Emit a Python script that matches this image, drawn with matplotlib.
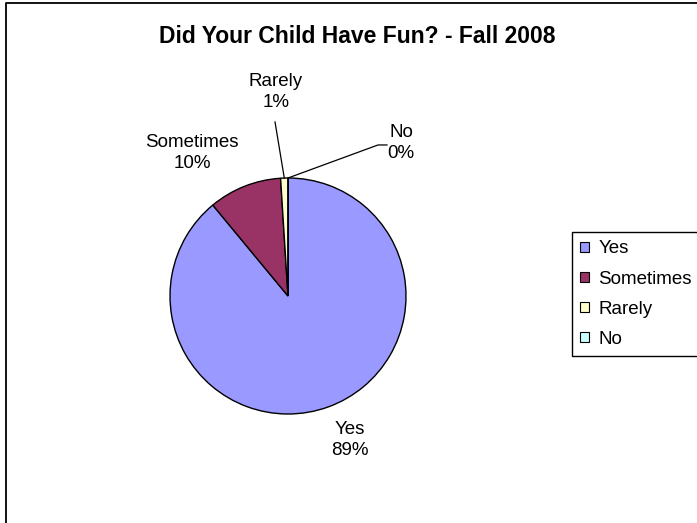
import numpy as np
import matplotlib
matplotlib.use("Agg")
import matplotlib.pyplot as plt
from matplotlib.patches import Patch
from matplotlib.lines import Line2D

plt.rcParams["font.family"] = ["Liberation Sans", "DejaVu Sans"]

# survey answers, percent of responses
categories = ["Yes", "Sometimes", "Rarely", "No"]
percents = [89, 10, 1, 0]
colors = ["#9999FF", "#993366", "#FFFFCC", "#CCFFFF"]

# where each data label sits (axes data units, pie radius = 1)
label_pos = [(0.525, -1.22), (-0.814, 1.212), (-0.102, 1.729), (0.958, 1.297)]
# leader lines for the thin slices: label end (and elbow) points
leaders = {
    "Rarely": [(-0.110, 1.475)],
    "No": [(0.839, 1.28), (0.763, 1.28)],
}

W, H = 697, 523
FS = 13.5
fig = plt.figure(figsize=(W / 100, H / 100), dpi=100)

# chart area border (only left and top edges fall inside the image)
fig.lines.append(Line2D([5.5 / W, 5.5 / W, 1.0], [0, 1 - 2.5 / H, 1 - 2.5 / H],
                        transform=fig.transFigure, color="black", linewidth=1.3))

fig.text(357 / W, 1 - 36.5 / H, "Did Your Child Have Fun? - Fall 2008",
         ha="center", va="center", fontsize=16.5, fontweight="bold")

ax = fig.add_axes([170 / W, 1 - 414 / H, 236 / W, 236 / H])
wedges, _ = ax.pie(percents, colors=colors, startangle=90, counterclock=False,
                   radius=1, wedgeprops=dict(edgecolor="black", linewidth=1))
ax.set_xlim(-1, 1)
ax.set_ylim(-1, 1)
ax.set_aspect("equal")
ax.axis("off")

for w, name, p, (lx, ly) in zip(wedges, categories, percents, label_pos):
    ax.text(lx, ly, f"{name}\n{p}%", ha="center", va="center", fontsize=FS,
            linespacing=1.35, clip_on=False)
    if name in leaders:
        mid = np.deg2rad((w.theta1 + w.theta2) / 2)
        pts = [(np.cos(mid), np.sin(mid))] + leaders[name][::-1]
        xs, ys = zip(*pts)
        ax.plot(xs, ys, color="black", linewidth=0.9, clip_on=False)

handles = [Patch(facecolor=c, edgecolor="black", linewidth=0.8) for c in colors]
leg = fig.legend(handles, categories, loc="upper left",
                 bbox_to_anchor=(572 / W, 1 - 232 / H), borderaxespad=0,
                 fontsize=FS, handlelength=0.45, handleheight=0.45,
                 handletextpad=0.5, labelspacing=0.7, borderpad=0.45,
                 fancybox=False, edgecolor="black", framealpha=1)
leg.get_frame().set_linewidth(1)

fig.savefig("out.png", dpi=100)
